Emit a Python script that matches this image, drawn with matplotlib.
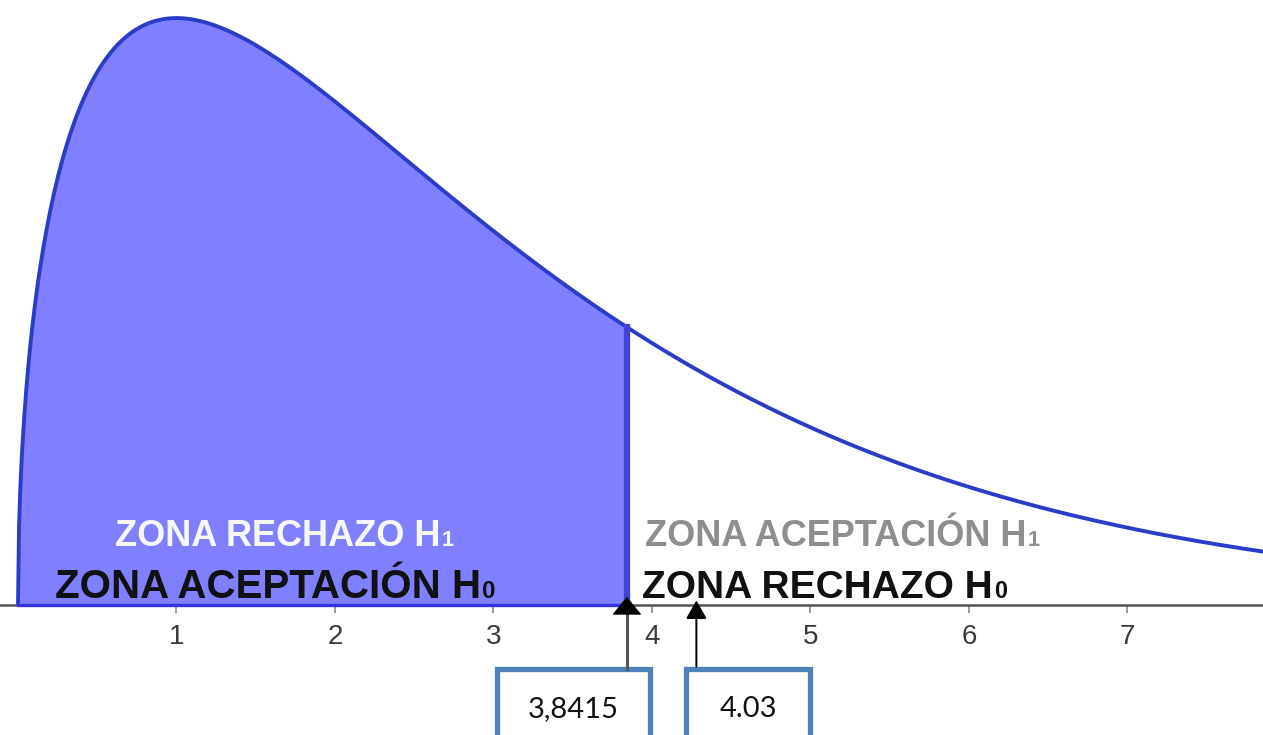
import math
import numpy as np
import matplotlib
matplotlib.use("Agg")
import matplotlib.pyplot as plt
from matplotlib.patches import Rectangle
from matplotlib.transforms import offset_copy

# chi-square distribution shown in the picture
df = 3
critical = 3.8415
arrow_x = [3.8415, 4.28]
box_labels = ["3,8415", "4.03"]
box_spans = [(3.02, 3.99), (4.215, 5.0)]
ticks = [1, 2, 3, 4, 5, 6, 7]

# zone labels: (x, y, text, digit, size, colour)
zone_labels = [
    (0.612, 0.0245, "ZONA RECHAZO H", "1", 26, "#f7f7f7"),
    (0.233, 0.0030, "ZONA ACEPTACIÓN H", "0", 29, "#111111"),
    (3.956, 0.0245, "ZONA ACEPTACIÓN H", "1", 26, "#8e8e8e"),
    (3.937, 0.0030, "ZONA RECHAZO H", "0", 28, "#111111"),
]

narrow = ["Liberation Sans Narrow", "Liberation Sans", "DejaVu Sans"]

def chi2_pdf(v, k):
    return v ** (k / 2 - 1) * np.exp(-v / 2) / (2 ** (k / 2) * math.gamma(k / 2))

x = np.linspace(0, 8.0, 1200)
y = chi2_pdf(x, df)
y_crit = chi2_pdf(critical, df)

fig = plt.figure(figsize=(12.63, 7.35), dpi=100)
ax = fig.add_axes([0, 0, 1, 1])
ax.set_xlim(-18 / 158.5, (1263 - 18) / 158.5)
ax.set_ylim(-130 / 2425.6, 0.2420 + 18 / 2425.6)

mask = x <= critical
ax.fill_between(x[mask], y[mask], color="#7f7fff", lw=0)
ax.plot(x, y, color="#2b3cc9", lw=2.8, solid_capstyle="butt")
ax.plot([critical, critical], [0, y_crit], color="#4343d8", lw=4.5)

# axis
for s in ["left", "right", "top"]:
    ax.spines[s].set_visible(False)
ax.spines["bottom"].set_position(("data", 0))
ax.spines["bottom"].set_color("#555555")
ax.spines["bottom"].set_linewidth(1.8)
ax.plot([0, critical], [0, 0], color="#3535e0", lw=2.4, zorder=3)
ax.set_yticks([])
ax.set_xticks(ticks)
ax.set_xticklabels([str(t) for t in ticks], family=narrow, fontsize=20, color="#3a3a3a")
ax.tick_params(axis="x", direction="out", length=6, width=1.2, color="#888888", pad=8)

# zone texts with small digits
fig.canvas.draw()
renderer = fig.canvas.get_renderer()
for zx, zy, txt, dig, size, col in zone_labels:
    t = ax.text(zx, zy, txt, family=narrow, fontweight="bold", fontsize=size,
                color=col, va="baseline", ha="left", zorder=5)
    w = t.get_window_extent(renderer).width
    tr = offset_copy(ax.transData, fig=fig, x=w + 1, y=0, units="dots")
    ax.text(zx, zy, dig, transform=tr, family=narrow, fontweight="bold",
            fontsize=size * 0.6, color=col, va="baseline", ha="left", zorder=5)

# value boxes and arrows
for (x0, x1), lab in zip(box_spans, box_labels):
    ax.add_patch(Rectangle((x0, -0.0265), x1 - x0, -0.04, facecolor="white",
                           edgecolor="#4f81bd", lw=3.8, clip_on=False, zorder=4))
    ax.text((x0 + x1) / 2, -0.0428, lab, family=["Lato", "DejaVu Sans"], fontsize=21,
            color="#111111", ha="center", va="center", zorder=5)

ax.plot([arrow_x[0], arrow_x[0]], [-0.0265, 0.0], color="#555555", lw=2.2, zorder=4)
ax.annotate("", xy=(arrow_x[0], 0.0045), xytext=(arrow_x[0], -0.001),
            arrowprops=dict(arrowstyle="-|>,head_width=0.45,head_length=0.55",
                            color="black", lw=0.5, mutation_scale=22), zorder=6)
ax.annotate("", xy=(arrow_x[1], 0.0030), xytext=(arrow_x[1], -0.0265),
            arrowprops=dict(arrowstyle="-|>,head_width=0.4,head_length=0.7",
                            color="black", lw=1.4, mutation_scale=16), zorder=6)

fig.savefig("out.png", dpi=100)
